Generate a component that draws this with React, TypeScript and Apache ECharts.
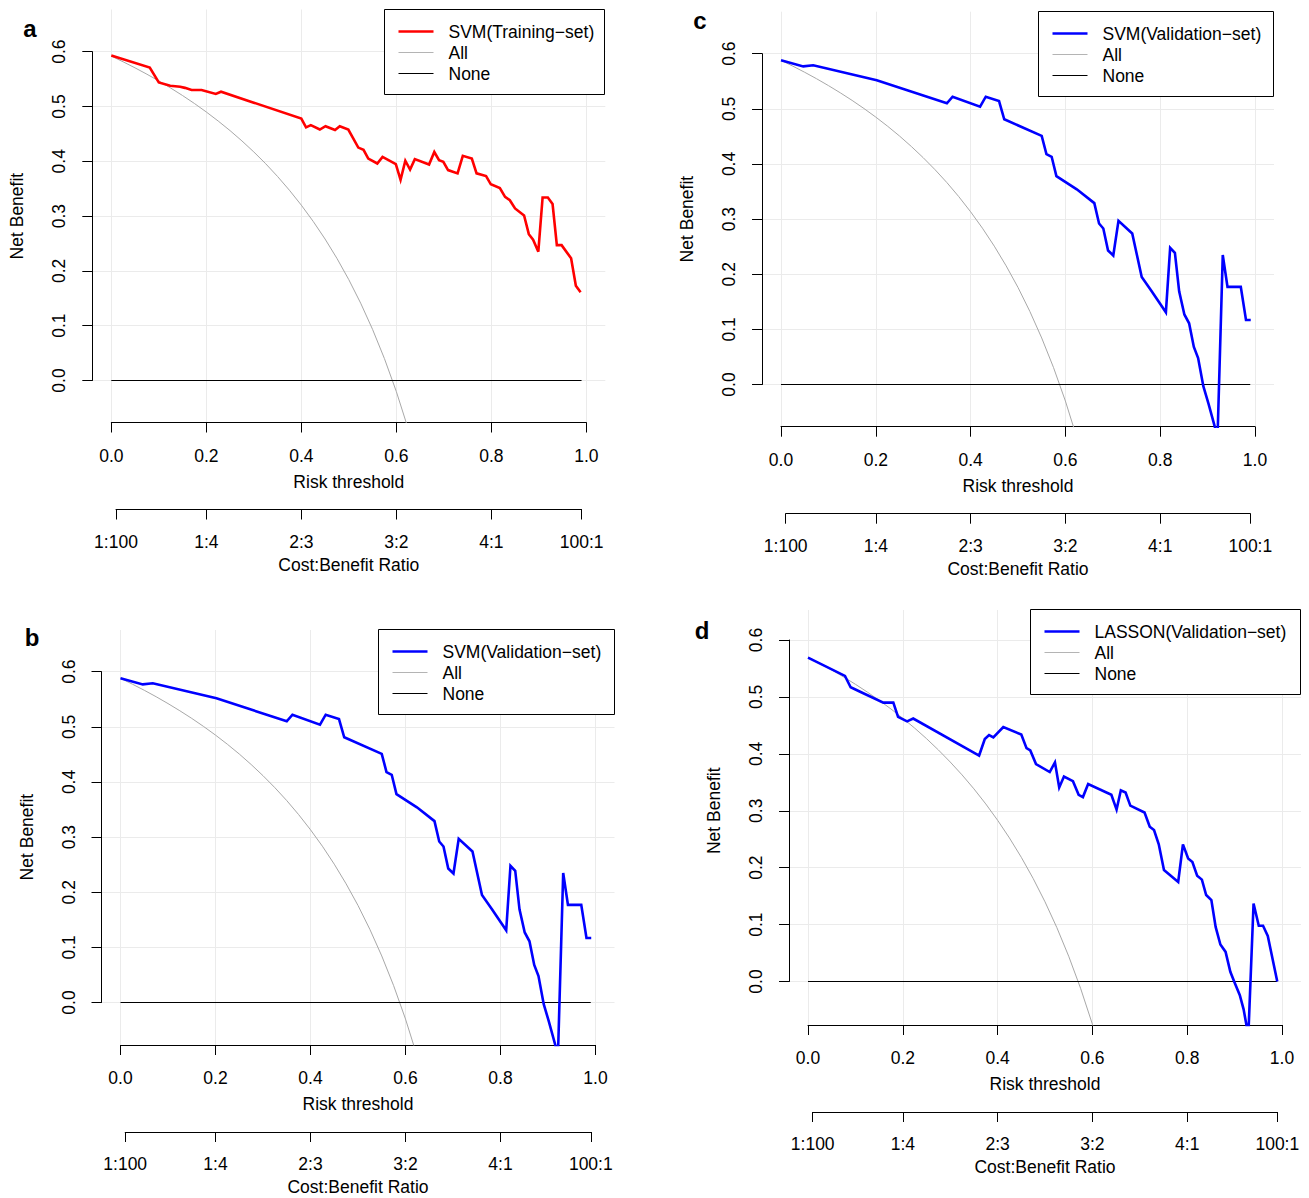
import React, { useEffect, useRef } from "react";
import * as echarts from "echarts";

const FONT = "'Liberation Sans', Arial, Helvetica, sans-serif";
const FS = 17.5;

// ---- axis ticks / labels ----
const riskTicks = [0, 0.2, 0.4, 0.6, 0.8, 1.0];
const costBenefitTicks = [0.0099, 0.2, 0.4, 0.6, 0.8, 0.9901];
const costBenefitLabels = ["1:100", "1:4", "2:3", "3:2", "4:1", "100:1"];

// ---- "None" strategy ----
const noneT = [0, 0.99];
const noneNB = [0, 0];

// ---- "All" strategy ----
const allT = [0, 0.025, 0.05, 0.075, 0.1, 0.125, 0.15, 0.175, 0.2, 0.225, 0.25, 0.275, 0.3, 0.325, 0.35, 0.375, 0.4, 0.425, 0.45, 0.475, 0.5, 0.525, 0.55, 0.575, 0.6, 0.625, 0.65];
const allTrain = [0.592, 0.5815, 0.5705, 0.5589, 0.5467, 0.5337, 0.52, 0.5055, 0.49, 0.4735, 0.456, 0.4372, 0.4171, 0.3956, 0.3723, 0.3472, 0.32, 0.2904, 0.2582, 0.2229, 0.184, 0.1411, 0.0933, 0.04, -0.02, -0.088, -0.1657];
const allSvmVal = [0.588, 0.5774, 0.5663, 0.5546, 0.5422, 0.5291, 0.5153, 0.5006, 0.485, 0.4684, 0.4507, 0.4317, 0.4114, 0.3896, 0.3662, 0.3408, 0.3133, 0.2835, 0.2509, 0.2152, 0.176, 0.1326, 0.0844, 0.0306, -0.03, -0.0987, -0.1771];
const allLassoVal = [0.57, 0.559, 0.5474, 0.5351, 0.5222, 0.5086, 0.4941, 0.4788, 0.4625, 0.4452, 0.4267, 0.4069, 0.3857, 0.363, 0.3385, 0.312, 0.2833, 0.2522, 0.2182, 0.181, 0.14, 0.0947, 0.0444, -0.0118, -0.075, -0.1467, -0.2286];

// ---- SVM (Training-set), panel a ----
const svmTrainT = [0, 0.081, 0.1, 0.124, 0.145, 0.155, 0.169, 0.19, 0.22, 0.231, 0.3, 0.4, 0.41, 0.42, 0.439, 0.451, 0.471, 0.481, 0.499, 0.52, 0.531, 0.541, 0.56, 0.571, 0.599, 0.609, 0.619, 0.629, 0.639, 0.669, 0.68, 0.69, 0.699, 0.709, 0.729, 0.74, 0.759, 0.769, 0.789, 0.799, 0.818, 0.829, 0.839, 0.85, 0.869, 0.879, 0.888, 0.899, 0.908, 0.919, 0.929, 0.938, 0.948, 0.968, 0.978, 0.988];
const svmTrainNB = [0.593, 0.571, 0.544, 0.538, 0.536, 0.534, 0.53, 0.53, 0.523, 0.527, 0.507, 0.478, 0.462, 0.466, 0.458, 0.464, 0.457, 0.464, 0.458, 0.425, 0.421, 0.405, 0.396, 0.408, 0.395, 0.366, 0.401, 0.385, 0.404, 0.394, 0.417, 0.402, 0.399, 0.384, 0.378, 0.41, 0.405, 0.378, 0.373, 0.358, 0.351, 0.335, 0.329, 0.314, 0.301, 0.267, 0.257, 0.235, 0.334, 0.334, 0.322, 0.247, 0.247, 0.223, 0.173, 0.161];

// ---- SVM (Validation-set), panels b and c ----
const svmValT = [0, 0.047, 0.068, 0.202, 0.35, 0.362, 0.42, 0.432, 0.46, 0.471, 0.55, 0.56, 0.571, 0.581, 0.624, 0.661, 0.671, 0.68, 0.69, 0.701, 0.712, 0.741, 0.761, 0.782, 0.812, 0.821, 0.831, 0.84, 0.851, 0.861, 0.871, 0.88, 0.891, 0.902, 0.921, 0.932, 0.942, 0.97, 0.981, 0.991];
const svmValNB = [0.588, 0.577, 0.579, 0.552, 0.51, 0.522, 0.504, 0.522, 0.514, 0.481, 0.451, 0.418, 0.413, 0.378, 0.354, 0.329, 0.292, 0.283, 0.243, 0.234, 0.297, 0.274, 0.195, 0.169, 0.131, 0.248, 0.239, 0.169, 0.127, 0.111, 0.068, 0.048, -0.003, -0.035, -0.095, 0.235, 0.177, 0.177, 0.117, 0.117];

// ---- LASSON (Validation-set), panel d ----
const lassoValT = [0, 0.078, 0.09, 0.11, 0.159, 0.18, 0.19, 0.209, 0.222, 0.361, 0.373, 0.382, 0.391, 0.412, 0.45, 0.461, 0.469, 0.481, 0.51, 0.521, 0.53, 0.54, 0.559, 0.571, 0.58, 0.591, 0.64, 0.651, 0.66, 0.67, 0.68, 0.71, 0.721, 0.73, 0.74, 0.751, 0.781, 0.791, 0.802, 0.811, 0.821, 0.831, 0.84, 0.851, 0.86, 0.87, 0.881, 0.891, 0.901, 0.911, 0.919, 0.929, 0.94, 0.951, 0.96, 0.97, 0.99];
const lassoValNB = [0.569, 0.537, 0.517, 0.509, 0.49, 0.49, 0.465, 0.457, 0.462, 0.397, 0.426, 0.433, 0.429, 0.447, 0.434, 0.41, 0.406, 0.382, 0.368, 0.385, 0.341, 0.36, 0.352, 0.328, 0.324, 0.347, 0.328, 0.302, 0.336, 0.332, 0.309, 0.297, 0.272, 0.266, 0.241, 0.196, 0.175, 0.241, 0.216, 0.21, 0.186, 0.179, 0.152, 0.143, 0.096, 0.065, 0.052, 0.017, -0.004, -0.024, -0.049, -0.095, 0.137, 0.098, 0.098, 0.08, 0.0];

const zip = (a: number[], b: number[]) => a.map((v, i) => [v, b[i]]);

const panels = [
  { letter: "a", model: "SVM(Training\u2212set)", color: "#ff0000", t: svmTrainT, nb: svmTrainNB, all: allTrain },
  { letter: "c", model: "SVM(Validation\u2212set)", color: "#0000ff", t: svmValT, nb: svmValNB, all: allSvmVal },
  { letter: "b", model: "SVM(Validation\u2212set)", color: "#0000ff", t: svmValT, nb: svmValNB, all: allSvmVal },
  { letter: "d", model: "LASSON(Validation\u2212set)", color: "#0000ff", t: lassoValT, nb: lassoValNB, all: allLassoVal },
];

// pixel layout of each panel (positions only)
const layouts = [
  { lx: 30, ly: 28, x0: 111.3, x1: 586.3, y0: 380.5, y6: 51.7, top: 9.5, bottom: 422.5, legendW: 220 },
  { lx: 700, ly: 20, x0: 781, x1: 1255, y0: 384.5, y6: 53.7, top: 11.7, bottom: 426.7, legendW: 235 },
  { lx: 32, ly: 637, x0: 120.5, x1: 595.5, y0: 1002.5, y6: 671.7, top: 630, bottom: 1045, legendW: 236 },
  { lx: 702, ly: 630, x0: 808, x1: 1282, y0: 981.5, y6: 640, top: 610, bottom: 1025, legendW: 270 },
];

function buildOption() {
  const grid: any[] = [];
  const xAxis: any[] = [];
  const yAxis: any[] = [];
  const series: any[] = [];
  const graphic: any[] = [];
  const gridBase = { containLabel: false, outerBoundsMode: "none", show: false };
  const axisLine = { show: true, onZero: false, lineStyle: { color: "#000", width: 1 } };
  const axisTick = { show: true, inside: false, length: 10, lineStyle: { color: "#000", width: 1 } };
  const labelStyle = { color: "#000", fontSize: FS, fontFamily: FONT };
  const gridLine = { show: true, lineStyle: { color: "#ebebeb", width: 1, type: "solid" } };

  panels.forEach((p, k) => {
    const L = layouts[k];
    const unitX = L.x1 - L.x0;
    const regLeft = L.x0 - 0.04 * unitX;
    const regW = 1.08 * unitX;
    const regH = L.bottom - L.top;
    const unitY = (L.y0 - L.y6) / 0.6;
    const yLo = -(L.bottom - L.y0) / unitY;
    const yHi = (L.y0 - L.top) / unitY;
    const gi = grid.length;

    // plot region
    grid.push({ ...gridBase, left: regLeft, top: L.top, width: regW, height: regH });
    xAxis.push({ gridIndex: gi, type: "value", min: -0.04, max: 1.04, show: false });
    yAxis.push({ gridIndex: gi, type: "value", min: yLo, max: yHi, show: false });

    // risk threshold axis
    grid.push({ ...gridBase, left: L.x0, top: L.top, width: unitX, height: regH });
    xAxis.push({
      gridIndex: gi + 1, type: "value", min: riskTicks[0], max: riskTicks[riskTicks.length - 1], interval: 0.2,
      position: "bottom", axisLine, axisTick,
      axisLabel: { ...labelStyle, margin: 24, formatter: (v: number) => v.toFixed(1) },
      splitLine: gridLine,
      name: "Risk threshold", nameLocation: "middle", nameGap: 50, nameTextStyle: labelStyle,
    });
    yAxis.push({ gridIndex: gi + 1, type: "value", min: 0, max: 1, show: false });

    // net benefit axis
    grid.push({ ...gridBase, left: regLeft, top: L.y6, width: regW, height: L.y0 - L.y6 });
    xAxis.push({ gridIndex: gi + 2, type: "value", min: 0, max: 1, show: false });
    yAxis.push({
      gridIndex: gi + 2, type: "value", min: 0, max: 0.6, interval: 0.1, position: "left",
      axisLine, axisTick,
      axisLabel: { ...labelStyle, rotate: 90, margin: 24, formatter: (v: number) => v.toFixed(1) },
      splitLine: gridLine,
      name: "Net Benefit", nameLocation: "middle", nameRotate: 90, nameGap: 66, nameTextStyle: labelStyle,
    });

    // cost:benefit axis
    const cbL = L.x0 + costBenefitTicks[0] * unitX;
    const cbR = L.x0 + costBenefitTicks[costBenefitTicks.length - 1] * unitX;
    grid.push({ ...gridBase, left: cbL, top: L.top, width: cbR - cbL, height: regH });
    xAxis.push({
      gridIndex: gi + 3, type: "value", min: costBenefitTicks[0], max: costBenefitTicks[costBenefitTicks.length - 1],
      position: "bottom", offset: 87, axisLine,
      axisTick: { ...axisTick, customValues: costBenefitTicks },
      axisLabel: {
        ...labelStyle, margin: 23, customValues: costBenefitTicks,
        formatter: (v: number) => {
          let best = 0;
          costBenefitTicks.forEach((c, i) => { if (Math.abs(c - v) < Math.abs(costBenefitTicks[best] - v)) best = i; });
          return costBenefitLabels[best];
        },
      },
      splitLine: { show: false },
      name: "Cost:Benefit Ratio", nameLocation: "middle", nameGap: 46, nameTextStyle: labelStyle,
    });
    yAxis.push({ gridIndex: gi + 3, type: "value", min: 0, max: 1, show: false });

    // series
    series.push({
      type: "line", name: "All", xAxisIndex: gi, yAxisIndex: gi, data: zip(allT, p.all),
      showSymbol: false, smooth: false, clip: true, z: 3, silent: true,
      lineStyle: { color: "#a8a8a8", width: 1 },
    });
    series.push({
      type: "line", name: "None", xAxisIndex: gi, yAxisIndex: gi, data: zip(noneT, noneNB),
      showSymbol: false, clip: true, z: 3, silent: true,
      lineStyle: { color: "#000", width: 1 },
    });
    series.push({
      type: "line", name: p.model, xAxisIndex: gi, yAxisIndex: gi, data: zip(p.t, p.nb),
      showSymbol: false, clip: true, z: 5, silent: true,
      lineStyle: { color: p.color, width: 2.6, join: "miter" },
    });

    // panel letter
    graphic.push({
      type: "text", x: L.lx, y: L.ly, z: 100,
      style: { text: p.letter, fontSize: 24, fontWeight: "bold", fontFamily: FONT, fill: "#000", align: "center", verticalAlign: "middle" },
    });

    // legend box (top-right of plot region)
    const bx = Math.round(regLeft + regW - L.legendW) - 0.5;
    const by = Math.round(L.top) - 0.5;
    graphic.push({
      type: "rect", z: 100, shape: { x: bx, y: by, width: L.legendW, height: 85 },
      style: { fill: "#fff", stroke: "#000", lineWidth: 1 },
    });
    const items = [
      { label: p.model, color: p.color, w: 2.6 },
      { label: "All", color: "#b4b4b4", w: 1 },
      { label: "None", color: "#000", w: 1 },
    ];
    items.forEach((it, i) => {
      const ry = by + 22 + i * 21;
      graphic.push({
        type: "line", z: 101, shape: { x1: bx + 14, y1: ry, x2: bx + 49, y2: ry },
        style: { stroke: it.color, lineWidth: it.w },
      });
      graphic.push({
        type: "text", z: 101, x: bx + 64, y: ry,
        style: { text: it.label, fontSize: FS, fontFamily: FONT, fill: "#000", align: "left", verticalAlign: "middle" },
      });
    });
  });

  return {
    animation: false,
    backgroundColor: "#ffffff",
    textStyle: { fontFamily: FONT },
    grid, xAxis, yAxis, series, graphic,
  };
}

export default function App() {
  const ref = useRef<HTMLDivElement>(null);
  useEffect(() => {
    if (!ref.current) return;
    const chart = echarts.init(ref.current, null, { renderer: "svg" });
    chart.setOption(buildOption() as any);
    return () => chart.dispose();
  }, []);
  return (
    <div
      ref={ref}
      style={{ position: "absolute", left: 0, top: 0, width: 1309, height: 1198, background: "#fff" }}
    />
  );
}
